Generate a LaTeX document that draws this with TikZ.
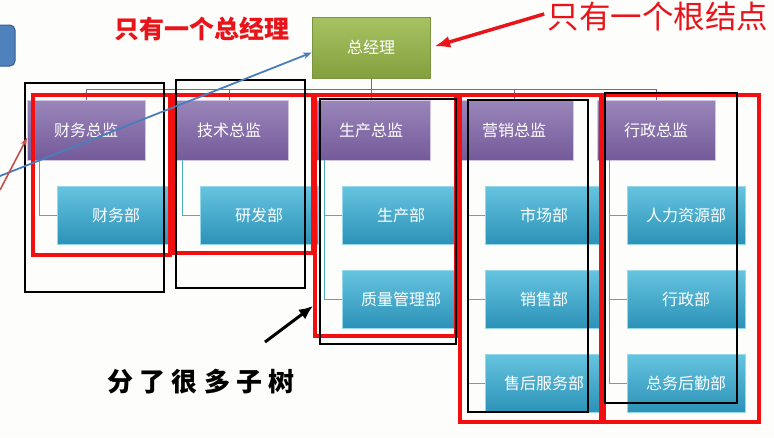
\documentclass[tikz,border=0pt]{standalone}
\usepackage{fontspec}
\usepackage{xcolor}
\usepackage{tikz}
\usetikzlibrary{arrows.meta}
\newfontfamily\cjk{Noto Sans CJK SC}
\definecolor{pagebg}{HTML}{FDFDFB}
\definecolor{bosstop}{HTML}{A6C262}
\definecolor{bossbot}{HTML}{84A03E}
\definecolor{bossline}{HTML}{7A9440}
\definecolor{headtop}{HTML}{9A86BA}
\definecolor{headbot}{HTML}{745A9A}
\definecolor{headline}{HTML}{D2C6E4}
\definecolor{depttop}{HTML}{66C4DF}
\definecolor{deptbot}{HTML}{2C92B8}
\definecolor{deptline}{HTML}{95D8EB}
\definecolor{buslink}{HTML}{7B62A0}
\definecolor{subline}{HTML}{4BACC6}
\definecolor{markred}{HTML}{F20F0F}
\definecolor{notered}{HTML}{E8141A}
\definecolor{pointblue}{HTML}{4A7EBB}
\definecolor{pointred}{HTML}{C0504D}
\definecolor{tabblue}{HTML}{4F81BD}
\definecolor{tabline}{HTML}{385D8A}

\begin{document}
\begin{tikzpicture}[x=1pt,y=1pt,yscale=-1,
  boss/.style={draw=bossline,top color=bosstop,bottom color=bossbot,text=white,minimum width=118pt,minimum height=61pt,inner sep=0pt,font=\cjk\fontsize{16}{18}\selectfont},
  head/.style={draw=headline,top color=headtop,bottom color=headbot,text=white,minimum width=118pt,minimum height=60pt,inner sep=0pt,font=\cjk\fontsize{16}{18}\selectfont},
  dept/.style={draw=deptline,top color=depttop,bottom color=deptbot,text=white,minimum width=118pt,minimum height=58pt,inner sep=0pt,font=\cjk\fontsize{16}{18}\selectfont},
  toplink/.style={draw=buslink,line width=0.8pt},
  sublink/.style={draw=subline,line width=0.8pt},
  redframe/.style={draw=markred,line width=3.5pt},
  blackframe/.style={draw=black,line width=1.8pt}]
%set diagram to 774 x 437
\useasboundingbox (0,0) rectangle (774,437);
\fill[pagebg] (0,0) rectangle (774,437);

%Shape: Rounded Rectangle (cut by the left edge)
\draw[tabline,fill=tabblue,line width=1pt,rounded corners=5pt] (-10,25) rectangle (15,66);

%Shape: Root box
\node[boss] (root) at (371,47.5) {总经理};

%Shape: Heads
\node[head] (cw) at (86,130) {财务总监};
\node[head] (js) at (229,130) {技术总监};
\node[head] (sc) at (371,130) {生产总监};
\node[head] (yx) at (514,130) {营销总监};
\node[head] (xz) at (656,130) {行政总监};

%Shape: Departments
\node[dept] (cwa) at (116,215) {财务部};
\node[dept] (jsa) at (259,215) {研发部};
\node[dept] (sca) at (401,215) {生产部};
\node[dept] (scb) at (401,299) {质量管理部};
\node[dept] (yxa) at (544,215) {市场部};
\node[dept] (yxb) at (544,299) {销售部};
\node[dept] (yxc) at (544,383) {售后服务部};
\node[dept] (xza) at (686,215) {人力资源部};
\node[dept] (xzb) at (686,299) {行政部};
\node[dept] (xzc) at (686,383) {总务后勤部};

%Straight Lines: root to heads
\draw[toplink] (root.south) -- ++(0,11) coordinate (bus);
\foreach \n in {cw,js,sc,yx,xz}
  \draw[toplink] (\n.north) |- (bus);

%Straight Lines: heads to departments
\draw[sublink] ([xshift=-47pt]cw.south) |- (cwa.west);
\draw[sublink] ([xshift=-47pt]js.south) |- (jsa.west);
\draw[sublink] ([xshift=-47pt]sc.south) |- (sca.west);
\draw[sublink] ([xshift=-47pt]sc.south) |- (scb.west);
\draw[sublink] ([xshift=-47pt]yx.south) |- (yxa.west);
\draw[sublink] ([xshift=-47pt]yx.south) |- (yxb.west);
\draw[sublink] ([xshift=-47pt]yx.south) |- (yxc.west);
\draw[sublink] ([xshift=-47pt]xz.south) |- (xza.west);
\draw[sublink] ([xshift=-47pt]xz.south) |- (xzb.west);
\draw[sublink] ([xshift=-47pt]xz.south) |- (xzc.west);

%Shape: Red frames
\draw[redframe] (33,95) rectangle (170,255);
\draw[redframe] (173,95) rectangle (313,253);
\draw[redframe] (315,95) rectangle (456,336);
\draw[redframe] (460,95) rectangle (601,422);
\draw[redframe] (604,95) rectangle (759,422);

%Shape: Black frames
\draw[blackframe] (25,83) rectangle (164,292);
\draw[blackframe] (176,80) rectangle (305,288);
\draw[blackframe] (320,99) rectangle (456,344);
\draw[blackframe] (468,100) rectangle (588,412);
\draw[blackframe] (605,93) rectangle (737,403);

% Text Node
\node[text=notered,font=\cjk\bfseries\fontsize{25}{27}\selectfont] (onehead) at (201.5,29) {只有一个总经理};
% Text Node
\node[text=notered,font=\cjk\fontsize{31.5}{33}\selectfont] (oneroot) at (658,17) {只有一个根结点};
% Text Node
\node[font=\cjk\bfseries\fontsize{26}{28}\selectfont\addfontfeature{LetterSpace=24}] (subtrees) at (201,382) {分了很多子树};

%Straight Lines: pointers
\coordinate (bluefrom) at (0,176);
\coordinate (redfrom) at (0,190);
\draw[pointblue,line width=1.8pt,-{Stealth[length=9pt,width=7pt]}] (bluefrom) -- ([yshift=5pt]root.west);
\draw[pointred,line width=1.6pt,-{Stealth[length=8pt,width=6pt]}] (redfrom) -- (27,138);
\draw[notered,line width=3.5pt,-{Latex[length=16pt,width=12pt]}] (oneroot.west |- 0,14) -- ([xshift=4pt,yshift=-1pt]root.east);
\draw[black,line width=3pt,-{Latex[length=14pt,width=12pt]}] (265,342) -- (313,306);
\end{tikzpicture}
\end{document}
